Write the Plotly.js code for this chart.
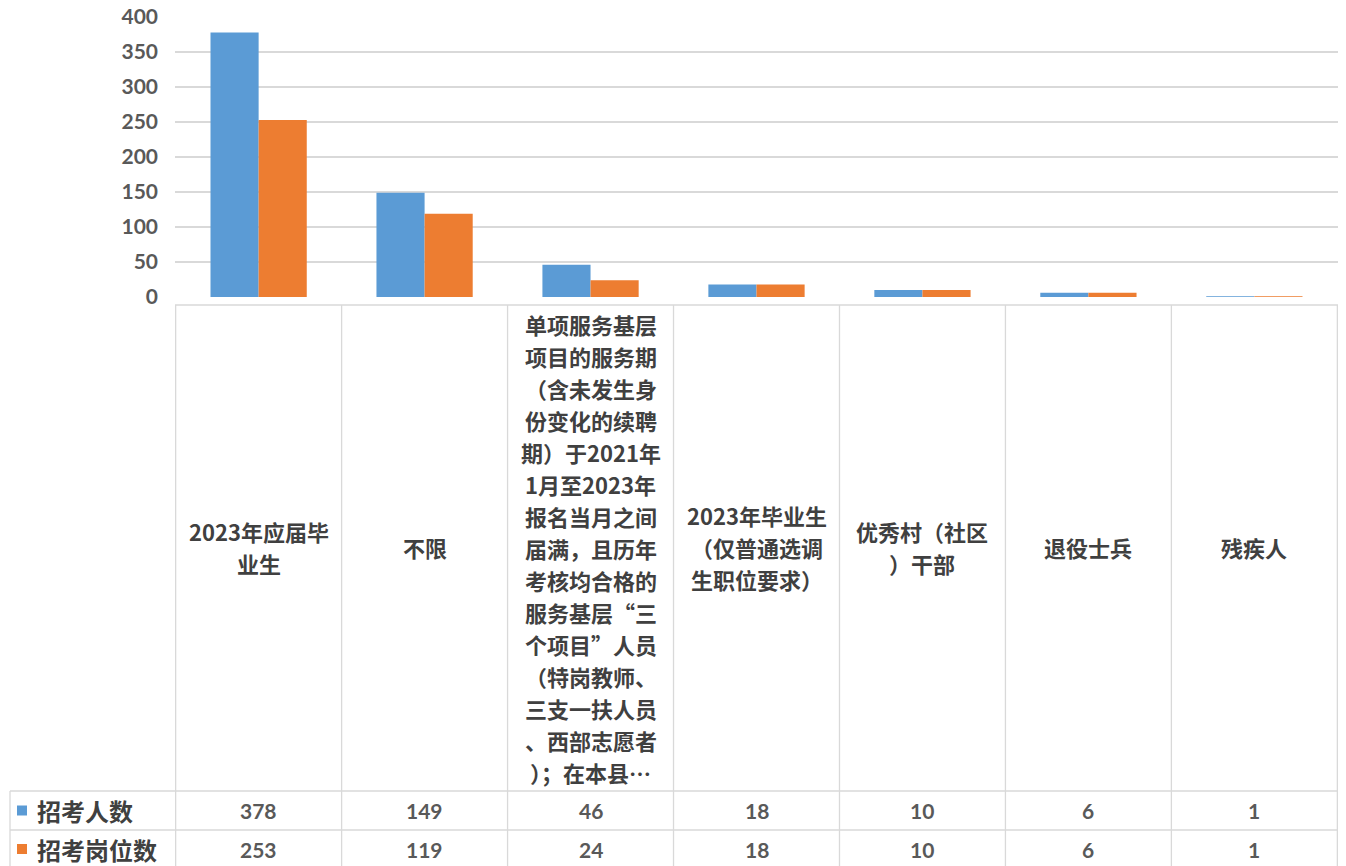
<!DOCTYPE html>
<html>
<head>
<meta charset="utf-8">
<script src="https://cdn.plot.ly/plotly-3.0.1.min.js"></script>
<style>html,body{margin:0;padding:0;background:#fff;}#chart{width:1346px;height:866px;}</style>
</head>
<body>
<div id="chart"></div>
<script>
const categories = [
  "2023年应届毕业生",
  "不限",
  "单项服务基层项目的服务期（含未发生身份变化的续聘期）于2021年1月至2023年报名当月之间届满，且历年考核均合格的服务基层“三个项目”人员（特岗教师、三支一扶人员、西部志愿者）；在本县…",
  "2023年毕业生（仅普通选调生职位要求）",
  "优秀村（社区）干部",
  "退役士兵",
  "残疾人"
];
const categoryLabels = [
  "2023年应届毕<br>业生",
  "不限",
  "单项服务基层<br>项目的服务期<br>（含未发生身<br>份变化的续聘<br>期）于2021年<br>1月至2023年<br>报名当月之间<br>届满，且历年<br>考核均合格的<br>服务基层“三<br>个项目”人员<br>（特岗教师、<br>三支一扶人员<br>、西部志愿者<br>）；在本县…",
  "2023年毕业生<br>（仅普通选调<br>生职位要求）",
  "优秀村（社区<br>）干部",
  "退役士兵",
  "残疾人"
];
const seriesNames = ["招考人数", "招考岗位数"];
const applicants = [378, 149, 46, 18, 10, 6, 1];
const positions = [253, 119, 24, 18, 10, 6, 1];
const yTicks = [0, 50, 100, 150, 200, 250, 300, 350, 400];

const colors = ["#5b9bd5", "#ed7d31"];
const gridColor = "#d9d9d9";
const textColor = "#595959";
const labelColor = "#404040";
const cjk = "'Noto Sans CJK SC', 'Noto Sans', sans-serif";
const num = "Lato, 'Noto Sans', sans-serif";

// layout geometry (pixels)
const W = 1346, H = 866;
const mL = 175, mR = 8, mT = 17, plotBottom = 297;
const plotH = plotBottom - mT;
const plotW = W - mL - mR;
const py = p => (plotBottom - p) / plotH;   // pixel y -> paper y
const px = p => (p - mL) / plotW;           // pixel x -> paper x

const tableTop = 305, row1Top = 791, row2Top = 830, tableBottom = H;
const labelSize = 22, lineStep = 32;

const traces = [
  { type: "bar", name: seriesNames[0], x: categories, y: applicants, marker: { color: colors[0] }, hoverinfo: "x+y" },
  { type: "bar", name: seriesNames[1], x: categories, y: positions, marker: { color: colors[1] }, hoverinfo: "x+y" }
];

const shapes = [];
const line = { color: gridColor, width: 1.3 };
for (let i = 0; i <= categories.length; i++) {
  shapes.push({ type: "line", xref: "x", yref: "paper", x0: i - 0.5, x1: i - 0.5, y0: py(tableTop), y1: py(tableBottom), line });
}
shapes.push({ type: "line", xref: "paper", yref: "paper", x0: 0, x1: 1, y0: py(tableTop), y1: py(tableTop), line });
[row1Top, row2Top].forEach(p => {
  shapes.push({ type: "line", xref: "paper", yref: "paper", x0: px(10), x1: 1, y0: py(p), y1: py(p), line });
});
shapes.push({ type: "line", xref: "paper", yref: "paper", x0: px(10), x1: px(10), y0: py(row1Top), y1: py(tableBottom), line });

const annotations = [];
const cellMid = (tableTop + row1Top) / 2 - 1;
categories.forEach((c, i) => {
  const lines = categoryLabels[i].split("<br>");
  const n = lines.length;
  const first = Math.max(tableTop + 19, cellMid - (n - 1) / 2 * lineStep);
  lines.forEach((t, k) => {
    annotations.push({
      xref: "x", yref: "paper", x: c, y: py(first + k * lineStep),
      text: t, showarrow: false, xanchor: "center", yanchor: "middle", align: "center",
      font: { family: cjk, size: labelSize, color: labelColor, weight: "bold" }
    });
  });
  annotations.push({
    xref: "x", yref: "paper", x: c, y: py((row1Top + row2Top) / 2),
    text: String(applicants[i]), showarrow: false, xanchor: "center", yanchor: "middle",
    font: { family: num, size: 21, color: textColor, weight: "bold" }
  });
  annotations.push({
    xref: "x", yref: "paper", x: c, y: py((row2Top + tableBottom) / 2 + 1),
    text: String(positions[i]), showarrow: false, xanchor: "center", yanchor: "middle",
    font: { family: num, size: 21, color: textColor, weight: "bold" }
  });
});
[[row1Top, row2Top], [row2Top, tableBottom + 2]].forEach((r, k) => {
  const mid = (r[0] + r[1]) / 2;
  shapes.push({
    type: "rect", xref: "paper", yref: "paper",
    x0: px(17), x1: px(27), y0: py(mid - 5), y1: py(mid + 5),
    fillcolor: colors[k], line: { width: 0 }
  });
  annotations.push({
    xref: "paper", yref: "paper", x: px(35), y: py(mid),
    text: seriesNames[k], showarrow: false, xanchor: "left", yanchor: "middle",
    font: { family: cjk, size: 24, color: labelColor, weight: "bold" }
  });
});

const layout = {
  width: W, height: H,
  margin: { l: mL, r: mR, t: mT, b: H - plotBottom, pad: 0 },
  paper_bgcolor: "#fff", plot_bgcolor: "#fff",
  barmode: "group", bargap: 0.42, bargroupgap: 0,
  showlegend: false,
  xaxis: { type: "category", showticklabels: false, showgrid: false, zeroline: false, showline: false, ticks: "", fixedrange: true },
  yaxis: {
    range: [0, 400], tickvals: yTicks, showgrid: true, gridcolor: gridColor, gridwidth: 1.3,
    zeroline: false, showline: false, ticks: "", ticklabelstandoff: 16,
    tickfont: { family: num, size: 21, color: textColor, weight: "bold" }, fixedrange: true
  },
  shapes, annotations
};

Plotly.newPlot("chart", traces, layout, { displayModeBar: false, staticPlot: true });
</script>
</body>
</html>
